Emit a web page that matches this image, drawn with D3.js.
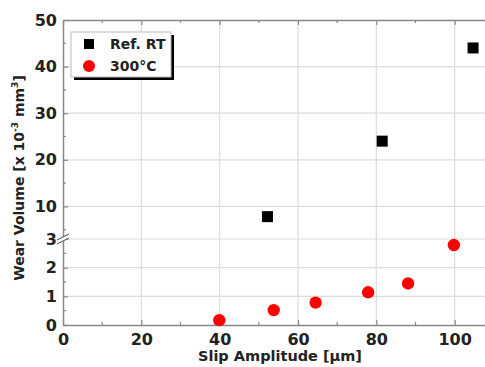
<!DOCTYPE html>
<html>
<head>
<meta charset="utf-8">
<script src="https://cdn.jsdelivr.net/npm/d3@7"></script>
<style>
  body { margin: 0; background: #fff; }
  text { font-family: 'DejaVu Sans', Verdana, sans-serif; font-weight: bold; }
</style>
</head>
<body>
<svg id="chart" width="485" height="367"></svg>
<script>
// data
const refRtSlip = [52.2, 81.5, 104.7]
const refRtWear = [7.8, 24.0, 44.0]
const hotSlip = [39.9, 53.8, 64.5, 77.9, 88.1, 99.8]
const hotWear = [0.17, 0.52, 0.78, 1.14, 1.45, 2.79]
const xTicks = [0, 20, 40, 60, 80, 100]
const yLowTicks = [0, 1, 2, 3]
const yHighTicks = [10, 20, 30, 40, 50]
const seriesNames = ['Ref. RT', '300°C']

const svg = d3.select('#chart')
const margin = {top: 20, left: 63, bottom: 42}
const W = 485, H = 367
const breakY = 239

const x = d3.scaleLinear().domain([0, 108]).range([margin.left, 486])
const yLow = d3.scaleLinear().domain([0, 3]).range([H - margin.bottom, breakY])
const yHigh = d3.scaleLinear().domain([3, 50]).range([breakY, margin.top])
const y = v => v <= 3 ? yLow(v) : yHigh(v)

const gridColor = '#dcdcdc'
const axisColor = '#888'

// grid
const grid = svg.append('g')
grid.selectAll('.gx').data(xTicks.slice(1)).join('line')
  .attr('x1', d => x(d)).attr('x2', d => x(d))
  .attr('y1', margin.top).attr('y2', H - margin.bottom)
  .attr('stroke', gridColor).attr('stroke-width', 1.2)
grid.selectAll('.gy').data(yLowTicks.slice(1).concat(yHighTicks.slice(0, -1))).join('line')
  .attr('x1', margin.left).attr('x2', W)
  .attr('y1', d => y(d)).attr('y2', d => y(d))
  .attr('stroke', gridColor).attr('stroke-width', 1.2)

function styleAxis(g) {
  g.selectAll('.domain').attr('stroke', axisColor).attr('stroke-width', 1.5)
  g.selectAll('.tick line').attr('stroke', axisColor).attr('stroke-width', 1.2)
  g.selectAll('.tick text').attr('fill', '#222').style('font-size', '16px')
    .style('font-family', "'DejaVu Sans', sans-serif").style('font-weight', 'bold')
}

// minor ticks
const minor = svg.append('g').attr('stroke', axisColor).attr('stroke-width', 1.2)
minor.selectAll('.mx').data(d3.range(10, 108, 20)).join('line')
  .attr('x1', d => x(d)).attr('x2', d => x(d))
  .attr('y1', H - margin.bottom).attr('y2', H - margin.bottom - 3)
minor.selectAll('.mxt').data(d3.range(10, 108, 20)).join('line')
  .attr('x1', d => x(d)).attr('x2', d => x(d))
  .attr('y1', margin.top).attr('y2', margin.top + 3)
minor.selectAll('.myl').data([0.5, 1.5, 2.5]).join('line')
  .attr('x1', margin.left).attr('x2', margin.left + 3)
  .attr('y1', d => yLow(d)).attr('y2', d => yLow(d))
minor.selectAll('.myh').data([5, 15, 25, 35, 45]).join('line')
  .attr('x1', margin.left).attr('x2', margin.left + 3)
  .attr('y1', d => yHigh(d)).attr('y2', d => yHigh(d))

// axes
const fmt = d3.format('d')
const xAxis = svg.append('g')
  .attr('transform', `translate(0,${H - margin.bottom})`)
  .call(d3.axisBottom(x).tickValues(xTicks).tickFormat(fmt).tickSizeInner(-5).tickSizeOuter(0).tickPadding(9))
styleAxis(xAxis)

const xTop = svg.append('g')
  .attr('transform', `translate(0,${margin.top})`)
  .call(d3.axisTop(x).tickValues(xTicks).tickSizeInner(-5).tickSizeOuter(0).tickFormat(''))
styleAxis(xTop)

const yAxisLow = svg.append('g')
  .attr('transform', `translate(${margin.left},0)`)
  .call(d3.axisLeft(yLow).tickValues(yLowTicks).tickFormat(fmt).tickSizeInner(-5).tickSizeOuter(0).tickPadding(6))
styleAxis(yAxisLow)

const yAxisHigh = svg.append('g')
  .attr('transform', `translate(${margin.left},0)`)
  .call(d3.axisLeft(yHigh).tickValues(yHighTicks).tickFormat(fmt).tickSizeInner(-5).tickSizeOuter(0).tickPadding(6))
styleAxis(yAxisHigh)

// axis break marks
const br = svg.append('g')
br.append('rect').attr('x', margin.left - 3).attr('y', breakY - 2).attr('width', 6).attr('height', 4).attr('fill', '#fff')
;[-2, 2].forEach(o => {
  br.append('line')
    .attr('x1', margin.left - 6).attr('y1', breakY + o + 3)
    .attr('x2', margin.left + 6).attr('y2', breakY + o - 3)
    .attr('stroke', '#666').attr('stroke-width', 1.2)
})

// axis titles
svg.append('text')
  .attr('x', 280).attr('y', 361)
  .attr('text-anchor', 'middle')
  .style('font-size', '14.5px').attr('fill', '#222')
  .text('Slip Amplitude [μm]')

const yTitle = svg.append('text')
  .attr('transform', `translate(24,${178}) rotate(-90)`)
  .attr('text-anchor', 'middle')
  .style('font-size', '14px').attr('fill', '#222')
yTitle.append('tspan').text('Wear Volume [x 10')
yTitle.append('tspan').attr('dy', -6).style('font-size', '9px').text('-3')
yTitle.append('tspan').attr('dy', 6).text(' mm')
yTitle.append('tspan').attr('dy', -6).style('font-size', '9px').text('3')
yTitle.append('tspan').attr('dy', 6).text(']')

// data
const refData = refRtSlip.map((s, i) => ({s, w: refRtWear[i]}))
const hotData = hotSlip.map((s, i) => ({s, w: hotWear[i]}))
const sq = 11
svg.append('g').selectAll('rect').data(refData).join('rect')
  .attr('x', d => x(d.s) - sq / 2).attr('y', d => y(d.w) - sq / 2)
  .attr('width', sq).attr('height', sq).attr('fill', '#000')
svg.append('g').selectAll('circle').data(hotData).join('circle')
  .attr('cx', d => x(d.s)).attr('cy', d => y(d.w)).attr('r', 6.2)
  .attr('fill', '#ff0000')

// legend
const lg = svg.append('g').attr('transform', 'translate(71,32)')
lg.append('rect').attr('x', 3).attr('y', 3).attr('width', 100).attr('height', 45).attr('fill', '#000')
lg.append('rect').attr('x', 0).attr('y', 0).attr('width', 100).attr('height', 45)
  .attr('fill', '#fff').attr('stroke', '#bbb').attr('stroke-width', 1)
lg.append('rect').attr('x', 13).attr('y', 7).attr('width', 10).attr('height', 10).attr('fill', '#000')
lg.append('circle').attr('cx', 18).attr('cy', 34).attr('r', 6).attr('fill', '#ff0000')
lg.selectAll('.lt').data(seriesNames).join('text')
  .attr('x', 39).attr('y', (d, i) => 17 + i * 22)
  .style('font-size', '14px').attr('fill', '#222')
  .text(d => d)
</script>
</body>
</html>
